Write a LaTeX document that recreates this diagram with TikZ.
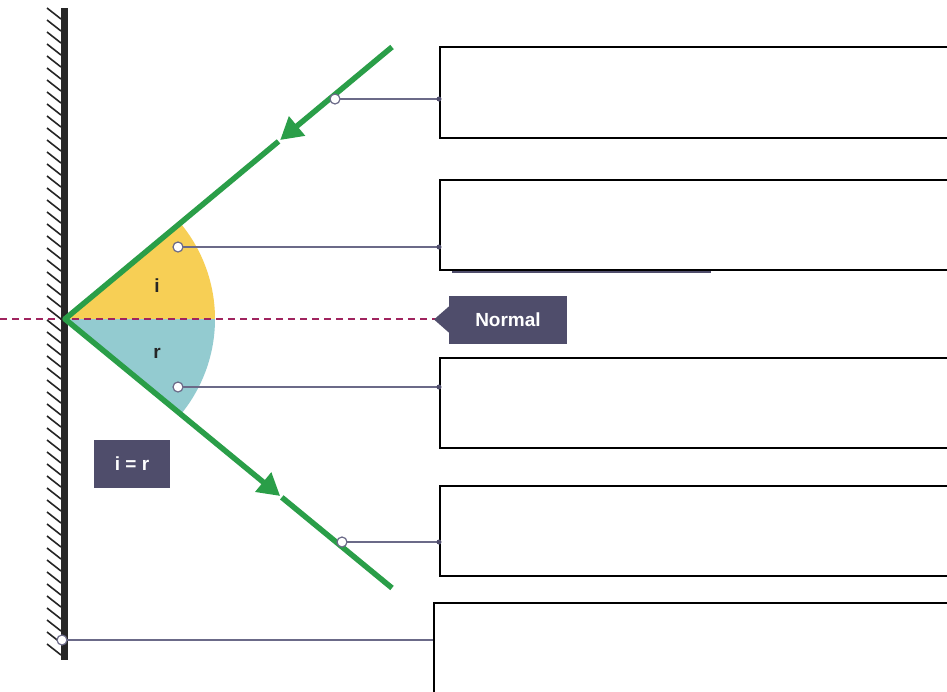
\documentclass[tikz,border=0pt]{standalone}
\usepackage{fontspec}
\setmainfont{Liberation Sans}
\usetikzlibrary{arrows.meta,calc}
\definecolor{raygreen}{RGB}{42,158,72}
\definecolor{sectyellow}{RGB}{247,207,85}
\definecolor{sectblue}{RGB}{147,203,208}
\definecolor{labelbg}{RGB}{79,77,107}
\definecolor{leadercol}{RGB}{107,106,136}
\definecolor{normalcol}{RGB}{160,36,94}
\definecolor{mirrorcol}{RGB}{38,38,38}
\tikzset{
  ray/.style={draw=raygreen, line width=5.5pt},
  raytip/.style={-{Triangle[length=22pt 0,width=24pt 0]}},
  leader/.style={draw=leadercol, line width=1.2pt},
  pin/.style={circle, draw=leadercol, fill=white, line width=1.2pt, inner sep=0pt, minimum size=10pt},
  enddot/.style={circle, fill=labelbg, inner sep=0pt, minimum size=5pt},
  answerbox/.style={draw=black, line width=2pt, fill=white, anchor=west, minimum width=561pt, inner sep=0pt},
  tag/.style={fill=labelbg, text=white, font=\bfseries\fontsize{19}{22}\selectfont, inner sep=0pt},
  anglelabel/.style={text=mirrorcol, font=\bfseries\fontsize{19}{22}\selectfont, inner sep=0pt},
  hatch/.style={draw=mirrorcol, line width=1.6pt}
}
\begin{document}
\begin{tikzpicture}[x=1pt, y=-1pt]
\useasboundingbox (0,0) rectangle (947,691);
\clip (0,0) rectangle (947,691);
\fill[white] (0,0) rectangle (947,691);
% key points
\coordinate (O) at (65,319);
\coordinate (A) at (392,47);
\coordinate (B) at (392,588);
% sectors
\fill[sectyellow] (O) -- ++(0:150) arc[start angle=0, end angle=-39.8, radius=150] -- cycle;
\fill[sectblue] (O) -- ++(0:150) arc[start angle=0, end angle=39.5, radius=150] -- cycle;
% normal dashed line
\coordinate (N0) at (0,319);
\coordinate (N1) at (438,319);
\draw[normalcol, line width=2pt, dash pattern=on 7pt off 5pt] (N0) -- (N1);
% hatching
\foreach \y in {8,20,...,644} {
  \draw[hatch] (47,\y) -- (61,\y+11);
}
% mirror
\coordinate (M0) at (64,8);
\coordinate (M1) at (64,660);
\draw[mirrorcol, line width=7pt] (M0) -- (M1);
% rays
\draw[ray, raytip] (A) -- ($(A)!0.342!(O)$);
\draw[ray] ($(A)!0.347!(O)$) -- (O);
\draw[ray, line cap=round] (O) -- (O);
\draw[ray, raytip] (O) -- ($(O)!0.658!(B)$);
\draw[ray] ($(O)!0.663!(B)$) -- (B);
% angle labels
\node[anglelabel] (li) at (157,286) {i};
\node[anglelabel] (lr) at (157,353) {r};
% boxes
\node[answerbox, minimum height=91pt] (box1) at (439,92.5) {};
\node[answerbox, minimum height=90pt] (box2) at (439,225) {};
\node[answerbox, minimum height=90pt] (box3) at (439,403) {};
\node[answerbox, minimum height=90pt] (box4) at (439,531) {};
\node[answerbox, minimum height=120pt] (box5) at (433,663) {};
\coordinate (S0) at (452,272);
\coordinate (S1) at (711,272);
\draw[labelbg, line width=2.5pt] (S0) -- (S1);
% normal tag
\node[tag, minimum width=118pt, minimum height=48pt] (normal) at (508,319.5) {Normal};
\coordinate (P) at (434,319.5);
\fill[labelbg] (normal.west) ++(0,-13) -- (P) -- ($(normal.west)+(0,13)$) -- cycle;
% i = r tag
\node[tag, minimum width=76pt, minimum height=48pt] (ieqr) at (132,464) {i = r};
% leaders
\coordinate (c1) at (335,99);
\coordinate (c2) at (178,247);
\coordinate (c3) at (178,387);
\coordinate (c4) at (342,542);
\coordinate (c5) at (62,640);
\draw[leader] (c1) -- (c1 -| box1.west) node[enddot] (d1) {};
\draw[leader] (c2) -- (c2 -| box2.west) node[enddot] (d2) {};
\draw[leader] (c3) -- (c3 -| box3.west) node[enddot] (d3) {};
\draw[leader] (c4) -- (c4 -| box4.west) node[enddot] (d4) {};
\draw[leader] (c5) -- (c5 -| box5.west);
\node[pin] (p1) at (c1) {};
\node[pin] (p2) at (c2) {};
\node[pin] (p3) at (c3) {};
\node[pin] (p4) at (c4) {};
\node[pin] (p5) at (c5) {};
\end{tikzpicture}
\end{document}
